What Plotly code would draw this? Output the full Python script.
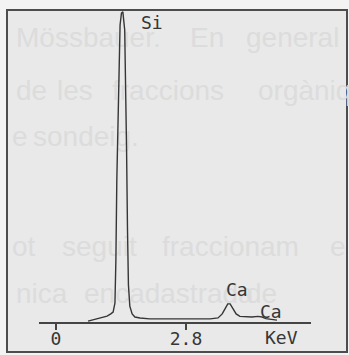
import plotly.graph_objects as go

# EDX spectrum (energy in keV, counts in arbitrary units)
energy_kev = [0.69, 0.78, 0.88, 0.99, 1.10, 1.18, 1.23, 1.27, 1.29, 1.31,
              1.34, 1.36, 1.38, 1.41, 1.44, 1.48, 1.50, 1.52, 1.54, 1.56,
              1.59, 1.64, 1.70, 1.81, 2.02, 2.46, 2.89, 3.32, 3.49, 3.58,
              3.64, 3.70, 3.75, 3.81, 3.88, 3.96, 4.09, 4.22, 4.35, 4.44,
              4.52, 4.65, 4.76]
counts = [3, 6, 10, 13, 19, 26, 32, 61, 199, 455,
          679, 856, 952, 990, 994, 936, 776, 551, 295, 119,
          51, 26, 16, 13, 10, 10, 8, 10, 13, 26,
          42, 58, 58, 42, 26, 18, 16, 16, 18, 16,
          11, 8, 6]

tick_values = [0, 2.8]
tick_labels = ["0", "2.8"]
axis_unit = "KeV"

peak_names = ["Si", "Ca", "Ca"]
peak_kev = [2.07, 3.90, 4.63]
peak_counts = [961, 103, 35]

# faint text showing through the scanned page (word by word, justified)
bleed_text = ["Mössbauer.", "En", "general",
              "de", "les", "fraccions", "orgàniques",
              "e", "sondeig.",
              "ot", "seguit", "fraccionam", "e",
              "nica", "encadastrada", "de"]
bleed_x = [16, 190, 246,
           16, 57, 112, 258,
           12, 33,
           12, 62, 162, 330,
           16, 84, 246]
bleed_y = [40, 40, 40,
           93, 93, 93, 93,
           139, 139,
           249, 249, 249, 249,
           296, 296, 296]

W, H = 349, 355
INK = "#363636"
MONO = "DejaVu Sans Mono"

fig = go.Figure()

# full-page pixel space for the page background and its show-through text
fig.add_trace(go.Scatter(
    x=bleed_x, y=bleed_y, text=bleed_text, mode="text",
    textposition="middle right", cliponaxis=False, hoverinfo="skip",
    textfont=dict(family="Liberation Sans", size=28, color="#dcdcdc"),
    xaxis="x", yaxis="y", showlegend=False))

# the spectrum itself
fig.add_trace(go.Scatter(
    x=energy_kev, y=counts, mode="lines",
    line=dict(color=INK, width=1.4), xaxis="x2", yaxis="y2",
    showlegend=False, hoverinfo="skip"))

ax_l, ax_r, ax_b, ax_t = 39, 311, 322, 10
px_per_kev = (186 - 56) / 2.8
x_min = (ax_l - 56) / px_per_kev
x_max = (ax_r - 56) / px_per_kev

annotations = []
for name, xk, yc in zip(peak_names, peak_kev, peak_counts):
    annotations.append(dict(x=xk, y=yc, xref="x2", yref="y2", text=name,
                            showarrow=False,
                            font=dict(family=MONO, size=18, color=INK)))
annotations.append(dict(x=281, y=337, xref="x", yref="y", text=axis_unit,
                        showarrow=False,
                        font=dict(family=MONO, size=18, color=INK)))

fig.update_layout(
    width=W, height=H, autosize=False,
    margin=dict(l=0, r=0, t=0, b=0),
    paper_bgcolor="#f3f3f3", plot_bgcolor="rgba(0,0,0,0)",
    xaxis=dict(domain=[0, 1], range=[0, W], visible=False, fixedrange=True),
    yaxis=dict(domain=[0, 1], range=[H, 0], visible=False, fixedrange=True),
    xaxis2=dict(domain=[ax_l / W, ax_r / W], anchor="y2",
                range=[x_min, x_max], showgrid=False, zeroline=False,
                showline=True, linecolor="#444444", linewidth=1.5,
                ticks="outside", ticklen=6, tickwidth=1.5, tickcolor="#444444",
                tickvals=tick_values, ticktext=tick_labels,
                ticklabelstandoff=-6,
                tickfont=dict(family=MONO, size=18, color=INK),
                fixedrange=True),
    yaxis2=dict(domain=[(H - ax_b) / H, (H - ax_t) / H], anchor="x2",
                range=[0, 1000], visible=False, fixedrange=True),
    shapes=[dict(type="rect", xref="x", yref="y", x0=7, y0=10, x1=347, y1=352,
                 line=dict(color="#4d4d4d", width=2), fillcolor="#e9e9e9",
                 layer="below")],
    annotations=annotations,
)

fig.write_html("out.html",
               config={"displayModeBar": False, "staticPlot": True},
               post_script="document.body.style.margin='0';"
                           "document.body.style.overflow='hidden';")
